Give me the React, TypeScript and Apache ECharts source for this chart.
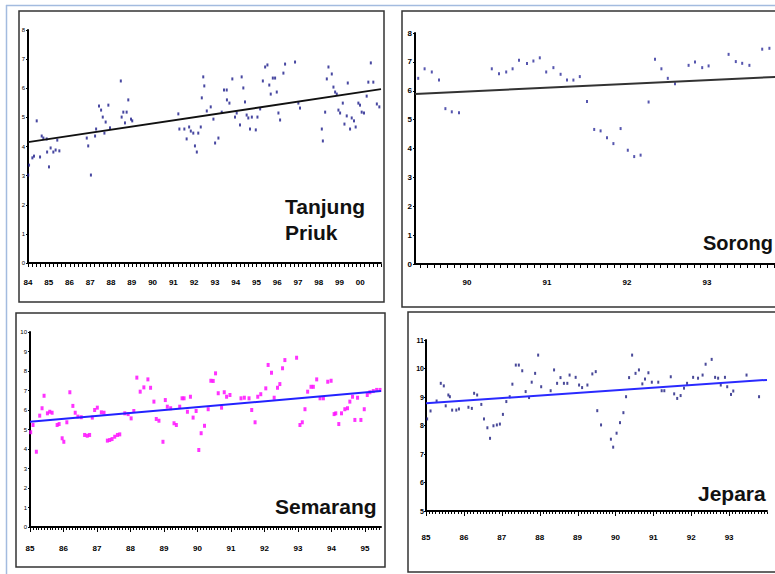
import React, { useEffect, useRef } from "react";
import * as echarts from "echarts";

// ---------- Tanjung Priuk ----------
const tpX = [1984.01,1984.05,1984.21,1984.29,1984.42,1984.58,1984.66,1984.74,1984.90,1984.92,1985.01,1985.09,1985.22,1985.33,1985.41,1985.51,1986.83,1986.90,1987.03,1987.23,1987.28,1987.42,1987.52,1987.60,1987.68,1987.74,1987.87,1987.95,1988.47,1988.51,1988.59,1988.67,1988.75,1988.83,1988.96,1989.02,1991.24,1991.29,1991.53,1991.64,1991.76,1991.84,1991.96,1992.04,1992.13,1992.20,1992.32,1992.37,1992.44,1992.49,1992.61,1992.80,1992.93,1993.01,1993.17,1993.33,1993.44,1993.57,1993.58,1993.70,1993.84,1993.97,1994.05,1994.21,1994.29,1994.37,1994.45,1994.53,1994.61,1994.69,1994.78,1994.97,1995.05,1995.18,1995.31,1995.42,1995.53,1995.62,1995.69,1995.79,1995.90,1995.98,1996.06,1996.14,1996.30,1996.38,1996.86,1997.02,1997.10,1998.15,1998.20,1998.31,1998.39,1998.47,1998.63,1998.71,1998.79,1998.87,1998.95,1999.03,1999.16,1999.24,1999.35,1999.40,1999.51,1999.59,1999.70,1999.78,1999.91,1999.99,2000.07,2000.18,2000.31,2000.39,2000.51,2000.63,2000.80,2000.92];
const tpY = [3.02,3.36,3.61,3.67,4.88,3.64,4.36,4.29,4.26,3.81,3.30,3.95,3.81,3.88,4.22,3.85,4.29,4.02,3.02,4.36,4.60,5.39,5.25,5.01,4.46,4.84,5.42,4.64,6.25,5.01,5.18,4.81,5.18,5.60,4.94,4.88,5.12,4.60,4.60,4.26,4.67,4.53,4.46,4.02,3.81,4.46,4.67,5.67,6.39,6.08,5.22,5.36,4.94,4.12,4.29,5.18,5.94,5.94,5.60,5.49,6.32,5.01,5.15,4.74,6.39,6.01,5.53,5.08,4.98,4.60,5.01,4.57,5.01,5.29,6.25,6.73,6.80,6.11,5.80,6.35,6.35,5.87,5.15,4.91,6.52,6.83,6.90,5.49,5.32,4.60,4.19,5.18,6.32,6.73,6.49,6.04,5.87,5.80,5.25,5.15,5.49,4.77,5.05,6.18,4.60,4.98,4.88,4.67,5.49,5.42,5.18,5.15,5.73,6.21,6.87,6.21,5.46,5.36];
const tpTrendX = [1984, 2001];
const tpTrendY = [4.15, 5.97];
const tpYearLabels = [1984,1985,1986,1987,1988,1989,1990,1991,1992,1993,1994,1995,1996,1997,1998,1999,2000];

// ---------- Sorong ----------
const soX = [1989.39,1989.47,1989.56,1989.65,1989.73,1989.81,1989.90,1990.31,1990.40,1990.49,1990.57,1990.65,1990.75,1990.83,1990.91,1990.99,1991.08,1991.17,1991.25,1991.33,1991.41,1991.50,1991.59,1991.67,1991.75,1991.83,1991.92,1992.01,1992.09,1992.17,1992.27,1992.35,1992.43,1992.51,1992.60,1992.77,1992.85,1992.94,1993.02,1993.27,1993.36,1993.44,1993.53,1993.69,1993.78];
const soY = [6.43,6.76,6.65,6.37,5.38,5.27,5.24,6.76,6.59,6.65,6.76,7.06,6.94,7.03,7.14,6.65,6.80,6.57,6.37,6.37,6.49,5.63,4.66,4.61,4.37,4.17,4.69,3.94,3.72,3.77,5.61,7.09,6.76,6.43,6.24,6.88,7.00,6.80,6.86,7.26,7.01,6.95,6.88,7.44,7.47];
const soTrendX = [1989.35, 1994.4];
const soTrendY = [5.89, 6.55];
const soYearLabels = [1990, 1991, 1992, 1993];

// ---------- Semarang ----------
const seX = [1985.02,1985.09,1985.19,1985.29,1985.36,1985.42,1985.52,1985.59,1985.66,1985.81,1985.87,1985.96,1986.01,1986.10,1986.19,1986.28,1986.35,1986.43,1986.53,1986.63,1986.71,1986.78,1986.86,1986.93,1987.01,1987.13,1987.21,1987.31,1987.38,1987.45,1987.53,1987.61,1987.68,1987.83,1987.93,1988.02,1988.10,1988.19,1988.29,1988.40,1988.52,1988.60,1988.70,1988.77,1988.85,1988.97,1989.04,1989.10,1989.20,1989.30,1989.37,1989.47,1989.54,1989.60,1989.70,1989.79,1989.87,1989.96,1990.04,1990.11,1990.21,1990.32,1990.40,1990.47,1990.54,1990.62,1990.72,1990.80,1990.87,1990.97,1991.30,1991.40,1991.54,1991.62,1991.72,1991.80,1991.89,1992.04,1992.11,1992.21,1992.29,1992.39,1992.46,1992.54,1992.61,1992.96,1993.06,1993.13,1993.21,1993.29,1993.39,1993.46,1993.56,1993.66,1993.76,1993.89,1993.99,1994.08,1994.13,1994.22,1994.30,1994.40,1994.48,1994.55,1994.63,1994.70,1994.78,1994.88,1994.98,1995.07,1995.15,1995.25,1995.35,1995.45];
const seY = [4.86,5.23,3.86,5.71,6.09,6.73,5.83,5.91,5.86,5.23,5.28,4.55,4.37,5.37,6.91,6.21,5.86,5.66,5.63,4.72,4.68,4.72,5.61,6.00,6.12,5.88,5.86,4.43,4.46,4.51,4.63,4.72,4.75,5.83,5.79,5.57,5.95,7.66,6.94,7.16,7.57,7.14,6.43,5.54,5.45,4.37,6.51,6.17,6.09,5.32,5.23,6.17,6.60,6.60,5.91,6.68,5.61,5.95,3.95,4.81,5.19,6.04,7.50,7.49,7.88,6.86,6.12,6.91,6.68,6.77,6.60,6.63,6.60,6.00,5.37,6.68,6.81,7.11,8.31,7.91,6.63,7.14,7.33,8.14,8.56,8.68,5.23,5.37,6.04,6.94,7.19,7.19,7.57,6.60,6.60,7.45,7.50,5.79,5.83,5.28,5.83,6.04,6.09,6.43,6.68,5.49,6.63,5.49,6.04,6.77,6.91,6.97,7.03,7.03];
const seTrendX = [1985, 1995.48];
const seTrendY = [5.40, 6.97];
const seYearLabels = [1985,1986,1987,1988,1989,1990,1991,1992,1993,1994,1995];

// ---------- Jepara ----------
const jeX = [1985.03,1985.12,1985.28,1985.39,1985.47,1985.52,1985.59,1985.63,1985.69,1985.80,1985.87,1986.12,1986.21,1986.27,1986.35,1986.46,1986.53,1986.62,1986.69,1986.78,1986.87,1986.95,1987.03,1987.12,1987.21,1987.28,1987.37,1987.45,1987.54,1987.63,1987.72,1987.79,1987.88,1987.96,1988.04,1988.29,1988.38,1988.46,1988.55,1988.64,1988.73,1988.79,1988.95,1989.04,1989.12,1989.26,1989.39,1989.48,1989.52,1989.62,1989.88,1989.94,1990.03,1990.12,1990.21,1990.28,1990.36,1990.44,1990.53,1990.62,1990.71,1990.78,1990.87,1990.96,1991.13,1991.22,1991.29,1991.46,1991.55,1991.63,1991.72,1991.81,1991.89,1992.05,1992.18,1992.30,1992.38,1992.54,1992.63,1992.71,1992.78,1992.89,1992.95,1993.05,1993.11,1993.46,1993.79];
const jeY = [8.23,8.51,8.86,9.48,9.39,8.69,9.07,9.01,8.54,8.54,8.58,8.64,8.60,9.13,9.07,8.74,8.23,7.92,7.55,7.99,8.02,8.05,8.39,8.84,9.01,9.45,10.12,10.12,9.92,9.19,8.98,9.52,9.83,10.47,9.36,9.22,9.95,9.48,9.68,9.48,9.48,9.77,9.69,9.42,9.33,9.42,9.81,9.89,8.52,8.02,7.52,7.24,7.73,8.10,8.45,9.01,9.68,10.47,9.83,9.95,9.46,9.63,9.85,9.52,9.52,9.22,9.22,9.71,9.11,8.95,9.05,9.31,9.48,9.69,9.66,9.77,10.15,10.32,9.69,9.66,9.42,9.69,9.36,9.09,9.21,9.77,9.01];
const jeTrendX = [1985, 1994];
const jeTrendY = [8.78, 9.60];
const jeYearLabels = [1985,1986,1987,1988,1989,1990,1991,1992,1993];

const FONT = '"Liberation Sans", Arial, sans-serif';

function zip(xs: number[], ys: number[]) {
  const n = Math.min(xs.length, ys.length);
  const out: number[][] = [];
  for (let i = 0; i < n; i++) out.push([xs[i], ys[i]]);
  return out;
}

function steps(min: number, max: number, perYear: number) {
  const out: number[] = [];
  const a = Math.ceil(min * perYear - 1e-6);
  const b = Math.floor(max * perYear + 1e-6);
  for (let k = a; k <= b; k++) out.push(k / perYear);
  return out;
}

function xAxisMain(gridIndex: number, min: number, max: number, labels: number[], margin: number) {
  return {
    type: "value",
    gridIndex,
    position: "bottom",
    min,
    max,
    splitLine: { show: false },
    axisLine: { show: true, onZero: false, lineStyle: { color: "#000", width: 2 } },
    axisTick: { show: false },
    axisLabel: {
      show: true,
      customValues: labels,
      margin,
      color: "#000",
      fontSize: 8,
      fontWeight: "bold",
      fontFamily: FONT,
      formatter: (v: number) => String(Math.round(v)).slice(2),
    },
  };
}

function yAxis(gridIndex: number, min: number, max: number, fontSize: number, bold: boolean, margin: number) {
  return {
    type: "value",
    gridIndex,
    min,
    max,
    interval: 1,
    splitLine: { show: false },
    axisLine: { show: true, onZero: false, lineStyle: { color: "#000", width: 2 } },
    axisTick: { show: true, length: 2, lineStyle: { color: "#000" } },
    axisLabel: {
      show: true,
      margin,
      color: "#000",
      fontSize,
      fontWeight: bold ? "bold" : "normal",
      fontFamily: FONT,
    },
  };
}

// tick marks below the x axis, placed through the axis scale
function tickSeries(i: number, values: number[], yBase: number, len: number) {
  return {
    type: "custom",
    xAxisIndex: i,
    yAxisIndex: i,
    clip: false,
    silent: true,
    z: 5,
    data: values.map((v) => [v, yBase]),
    encode: { x: 0, y: 1 },
    renderItem: (_params: any, api: any) => {
      const p = api.coord([api.value(0), api.value(1)]);
      const x = Math.round(p[0]) + 0.5;
      return {
        type: "line",
        shape: { x1: x, y1: p[1] + 1, x2: x, y2: p[1] + 1 + len },
        style: { stroke: "#000", lineWidth: 1 },
      };
    },
  };
}

function scatter(i: number, xs: number[], ys: number[], color: string, size: number[]) {
  return {
    type: "scatter",
    xAxisIndex: i,
    yAxisIndex: i,
    data: zip(xs, ys),
    symbol: "rect",
    symbolSize: size,
    itemStyle: { color },
    silent: true,
  };
}

function trend(i: number, xs: number[], ys: number[], color: string) {
  return {
    type: "line",
    xAxisIndex: i,
    yAxisIndex: i,
    data: zip(xs, ys),
    showSymbol: false,
    symbol: "none",
    lineStyle: { color, width: 2 },
    silent: true,
    z: 3,
  };
}

function box(x: number, y: number, w: number, h: number) {
  return {
    type: "rect",
    shape: { x, y, width: w, height: h },
    style: { fill: "none", stroke: "#333", lineWidth: 1.5 },
    silent: true,
  };
}

function label(text: string, x: number, y: number, size: number) {
  return {
    type: "text",
    x,
    y,
    style: {
      text,
      fill: "#111",
      font: `bold ${size}px ${FONT}`,
      align: "left",
      verticalAlign: "middle",
    },
    silent: true,
  };
}

export default function App() {
  const ref = useRef<HTMLDivElement>(null);

  useEffect(() => {
    if (!ref.current) return;
    const chart = echarts.init(ref.current, undefined, { renderer: "svg" });
    const ranges = [
      [1984, 2001],
      [1989.35, 1994.4],
      [1985, 1995.48],
      [1985, 1994],
    ];
    const yMins = [0, 0, 0, 5];
    const option: any = {
      animation: false,
      backgroundColor: "#fff",
      grid: [
        { left: 28, top: 30, width: 353, height: 233, containLabel: false, outerBoundsMode: "none" },
        { left: 415, top: 33, width: 404, height: 231, containLabel: false, outerBoundsMode: "none" },
        { left: 30, top: 332, width: 351, height: 195, containLabel: false, outerBoundsMode: "none" },
        { left: 426, top: 340, width: 341, height: 171, containLabel: false, outerBoundsMode: "none" },
      ],
      xAxis: [
        xAxisMain(0, ranges[0][0], ranges[0][1], tpYearLabels, 15),
        xAxisMain(1, ranges[1][0], ranges[1][1], soYearLabels, 14),
        xAxisMain(2, ranges[2][0], ranges[2][1], seYearLabels, 17),
        xAxisMain(3, ranges[3][0], ranges[3][1], jeYearLabels, 22),
      ],
      yAxis: [
        yAxis(0, 0, 8, 6, false, 3),
        yAxis(1, 0, 8, 8, true, 3),
        yAxis(2, 0, 10, 6, false, 3),
        yAxis(3, 5, 11, 7, true, 2),
      ],
      series: [
        scatter(0, tpX, tpY, "#1a1a8a", [2, 3]),
        trend(0, tpTrendX, tpTrendY, "#111"),
        scatter(1, soX, soY, "#2c2c9a", [2, 3]),
        trend(1, soTrendX, soTrendY, "#333"),
        scatter(2, seX, seY, "#ff00ff", [3, 4]),
        trend(2, seTrendX, seTrendY, "#2222ff"),
        scatter(3, jeX, jeY, "#1c1c80", [2, 3]),
        trend(3, jeTrendX, jeTrendY, "#2a2aff"),
        tickSeries(0, steps(ranges[0][0], ranges[0][1], 5), yMins[0], 3),
        tickSeries(1, steps(ranges[1][0], ranges[1][1], 12), yMins[1], 3),
        tickSeries(2, steps(ranges[2][0], ranges[2][1], 12), yMins[2], 2),
        tickSeries(3, steps(ranges[3][0], ranges[3][1], 12), yMins[3], 2),
        tickSeries(2, seYearLabels, yMins[2], 4),
        tickSeries(3, jeYearLabels, yMins[3], 4),
      ],
      graphic: [
        { type: "line", shape: { x1: 6, y1: 5.5, x2: 830, y2: 5.5 }, style: { stroke: "#a3bbdf", lineWidth: 1.5 }, silent: true },
        { type: "line", shape: { x1: 6.5, y1: 5, x2: 6.5, y2: 574 }, style: { stroke: "#a3bbdf", lineWidth: 1.5 }, silent: true },
        box(19, 11, 365, 291),
        box(402, 11, 420, 296),
        box(16, 313, 369, 254),
        box(408, 312, 420, 260),
        label("Tanjung", 285, 206.5, 21),
        label("Priuk", 285, 232.5, 21),
        label("Sorong", 703, 242.5, 20),
        label("Semarang", 275, 506.5, 21),
        label("Jepara", 698, 493, 21),
      ],
    };
    chart.setOption(option);
    return () => chart.dispose();
  }, []);

  return (
    <div style={{ position: "fixed", left: 0, top: 0, width: 775, height: 574, overflow: "hidden", background: "#fff" }}>
      <div ref={ref} style={{ width: 830, height: 574 }} />
    </div>
  );
}
